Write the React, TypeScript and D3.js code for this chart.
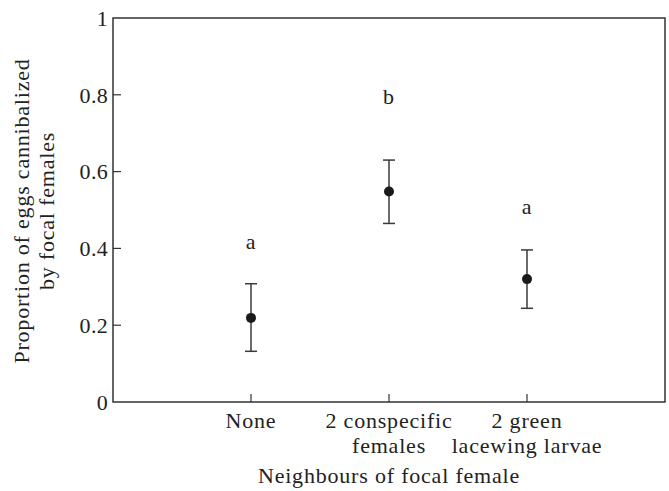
import React from 'react';
import { scaleLinear, scalePoint } from 'd3';

// values
const categories = ['None', '2 conspecific\nfemales', '2 green\nlacewing larvae'];
const means = [0.219, 0.548, 0.320];
const lower = [0.132, 0.465, 0.244];
const upper = [0.308, 0.630, 0.396];
const letters = ['a', 'b', 'a'];
const letterPos = [0.398, 0.776, 0.49];
const yTicks = [0, 0.2, 0.4, 0.6, 0.8, 1];

const width = 669;
const height = 491;
const margin = { top: 18, right: 4, bottom: 89, left: 113 };
const font = '"Liberation Serif", "DejaVu Serif", serif';
const ink = '#333';
const fs = 22;
const ls = 0.8;

function App() {
  const innerW = width - margin.left - margin.right;
  const innerH = height - margin.top - margin.bottom;

  const x = scalePoint<string>()
    .domain(['_l', ...categories, '_r'])
    .range([0, innerW]);
  const y = scaleLinear().domain([0, 1]).range([innerH, 0]);

  return (
    <svg width={width} height={height} style={{ position: 'absolute', left: 0, top: 0 }}>
      <g transform={`translate(${margin.left},${margin.top})`} fontFamily={font} fill="#222" letterSpacing={ls}>
        {/* frame */}
        <rect x={0} y={0} width={innerW} height={innerH} fill="none" stroke={ink} strokeWidth={1.5} />

        {/* y ticks */}
        {yTicks.map(t => (
          <g key={t} transform={`translate(0,${y(t)})`}>
            {t > 0 && t < 1 && <line x1={0} x2={8} stroke={ink} strokeWidth={1.2} />}
            <text x={-5} dy="0.35em" textAnchor="end" fontSize={fs} letterSpacing={0.3}>{t}</text>
          </g>
        ))}

        {/* x ticks */}
        {categories.map(c => (
          <g key={c} transform={`translate(${x(c)},${innerH})`}>
            <line y1={0} y2={-8} stroke={ink} strokeWidth={1.2} />
            <text textAnchor="middle" fontSize={fs}>
              {c.split('\n').map((s, j) => (
                <tspan key={j} x={0} y={26 + j * 25}>{s}</tspan>
              ))}
            </text>
          </g>
        ))}

        {/* error bars and means */}
        {categories.map((c, i) => (
          <g key={c} transform={`translate(${x(c)},0)`} stroke="#3a3a3a" strokeWidth={1.5}>
            <line y1={y(lower[i])} y2={y(upper[i])} />
            <line x1={-6} x2={6} y1={y(lower[i])} y2={y(lower[i])} />
            <line x1={-6} x2={6} y1={y(upper[i])} y2={y(upper[i])} />
            <circle cy={y(means[i])} r={5} fill="#1a1a1a" stroke="none" />
            <text y={y(letterPos[i])} textAnchor="middle" fontSize={fs} stroke="none" fill="#222">
              {letters[i]}
            </text>
          </g>
        ))}

        {/* axis titles */}
        <text x={innerW / 2} y={innerH + 81} textAnchor="middle" fontSize={fs}>
          Neighbours of focal female
        </text>
        <text transform={`translate(${-margin.left + 29},${innerH / 2 + 1}) rotate(-90)`} textAnchor="middle" fontSize={fs}>
          <tspan x={0} y={0}>Proportion of eggs cannibalized</tspan>
          <tspan x={0} y={25}>by focal females</tspan>
        </text>
      </g>
    </svg>
  );
}

export default App;
